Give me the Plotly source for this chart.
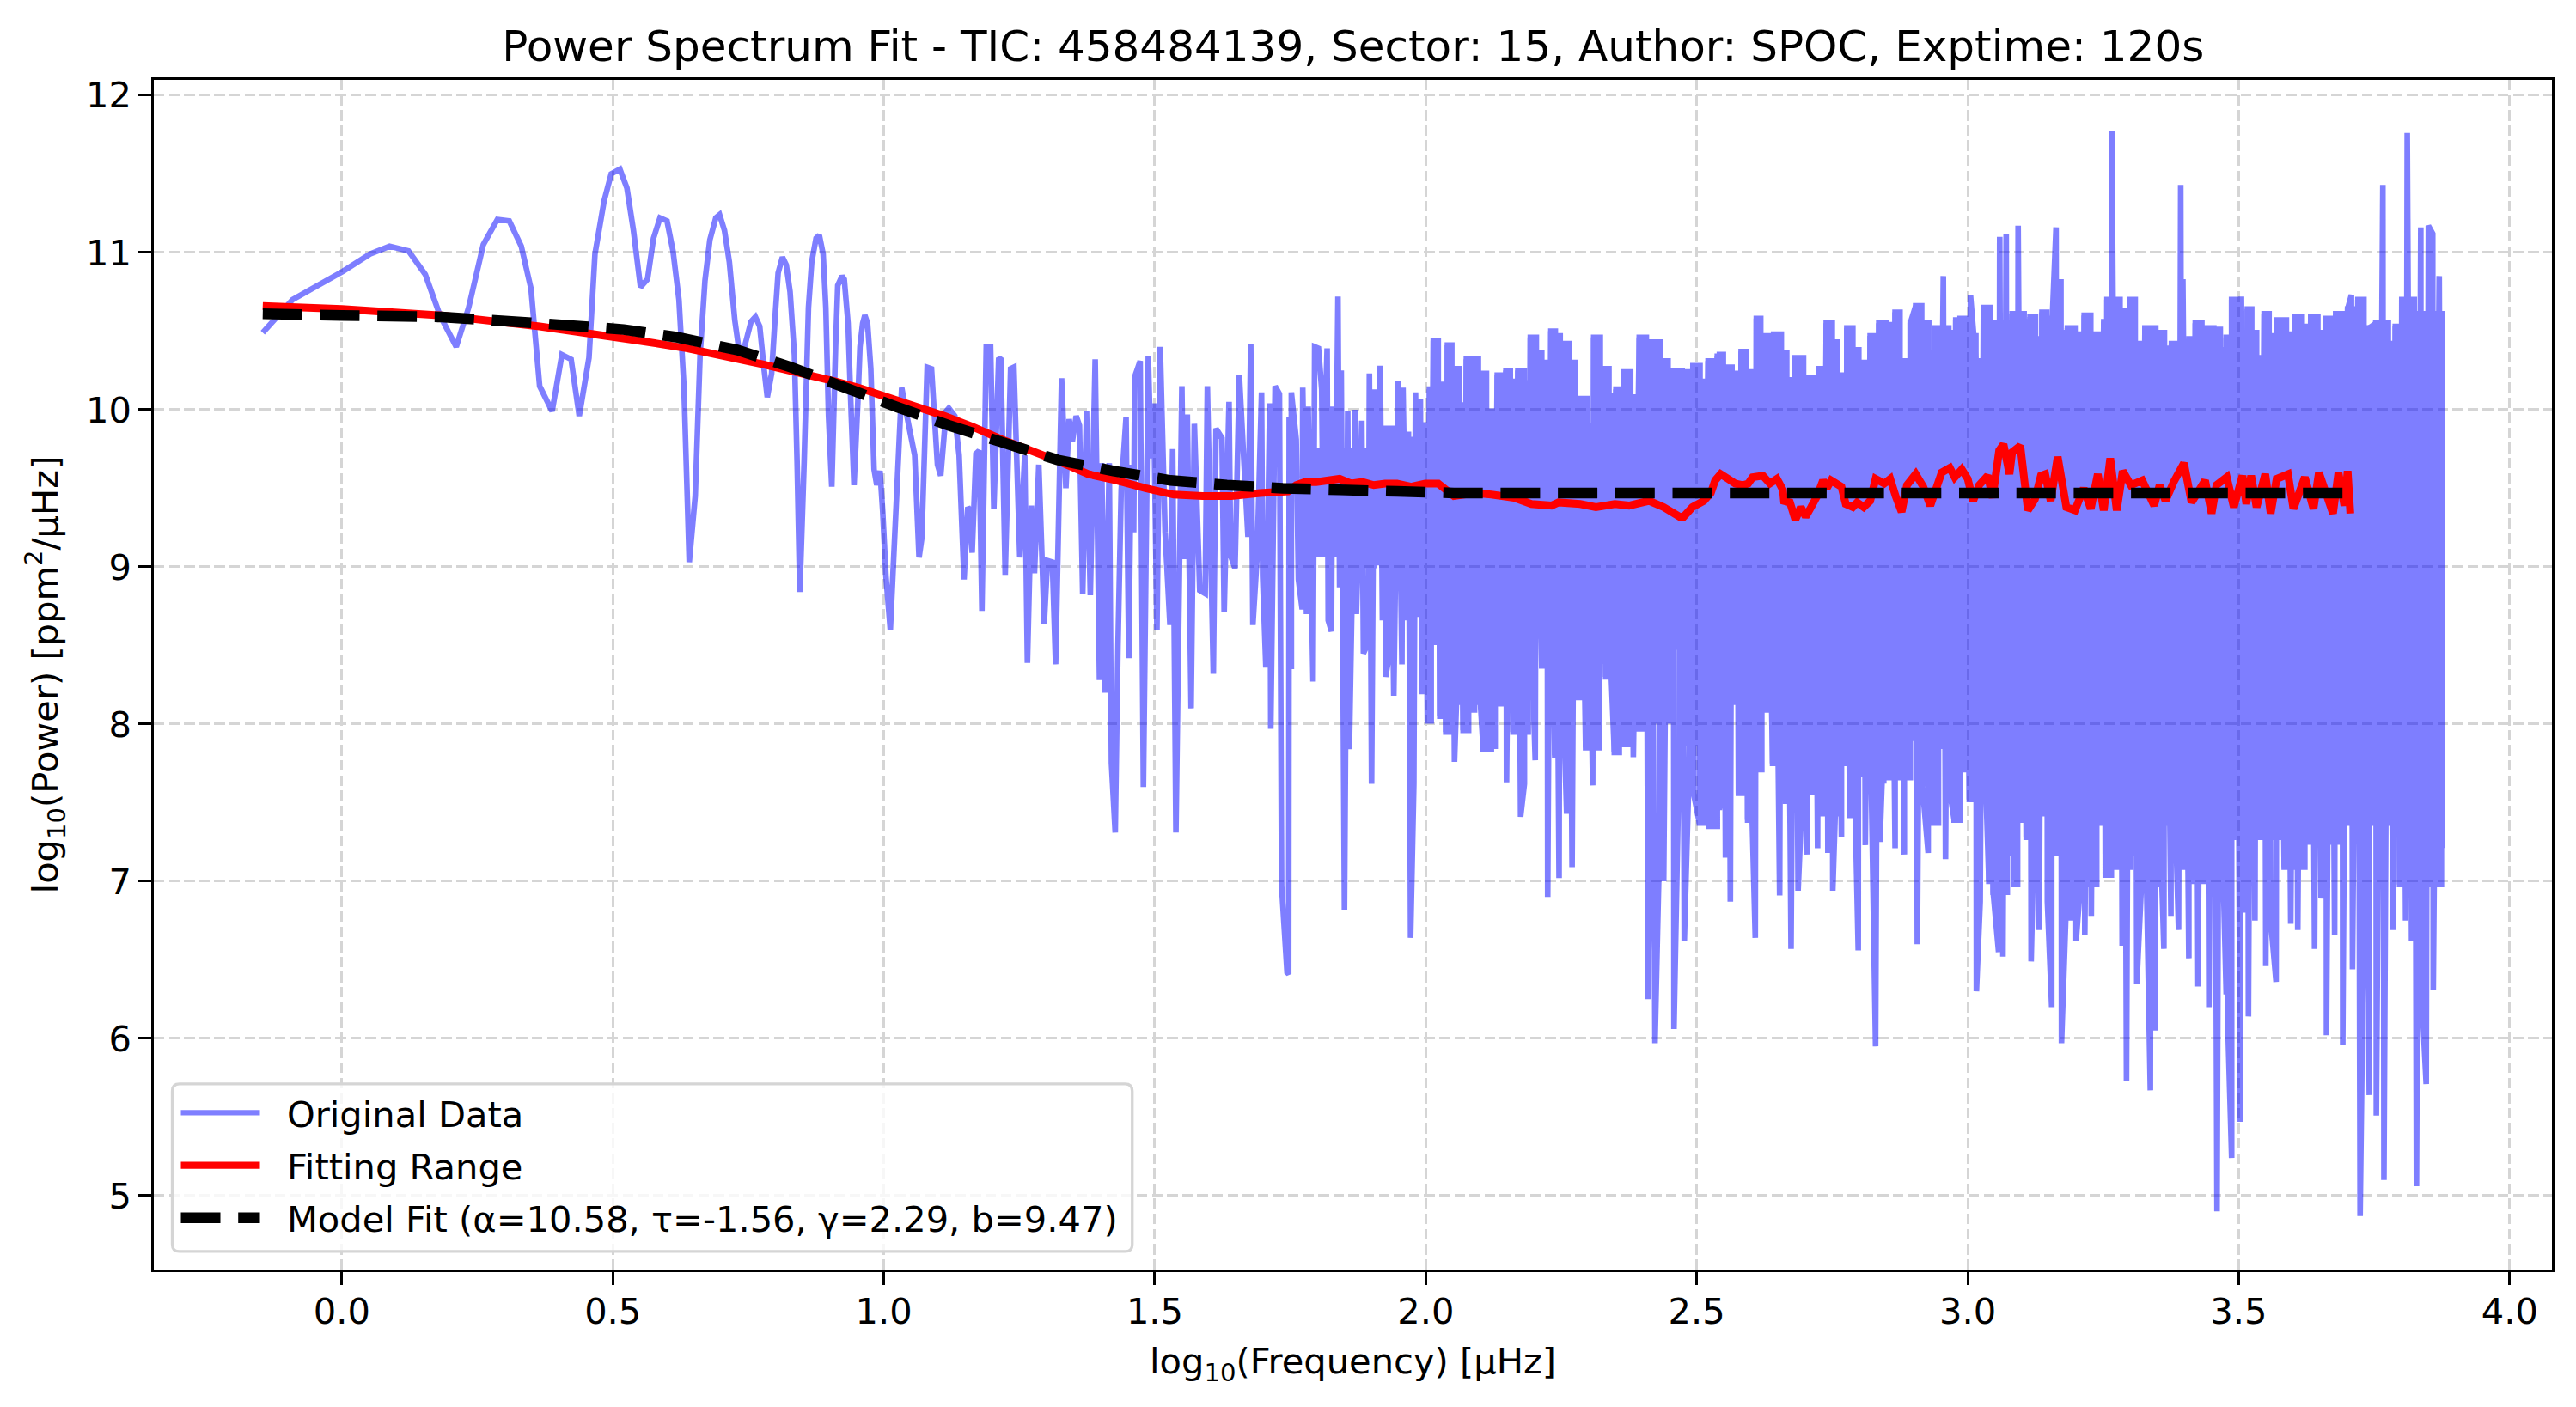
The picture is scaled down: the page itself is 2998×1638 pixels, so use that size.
import plotly.graph_objects as go

TITLE = "Power Spectrum Fit - TIC: 458484139, Sector: 15, Author: SPOC, Exptime: 120s"
XTICKS = [0.0, 0.5, 1.0, 1.5, 2.0, 2.5, 3.0, 3.5, 4.0]
YTICKS = [5, 6, 7, 8, 9, 10, 11, 12]
NAME_DATA = "Original Data"
NAME_RANGE = "Fitting Range"
NAME_MODEL = "Model Fit (α=10.58, τ=-1.56, γ=2.29, b=9.47)"

# Low-frequency part of the spectrum, resolved point by point
low_freq = [-0.146,-0.091,0.002,0.052,0.088,0.123,0.154,0.181,0.211,0.234,0.261,0.287,0.309,0.331,0.349,0.365,0.388,0.406,0.423,0.438,0.456,0.467,0.484,0.497,0.513,0.526,0.538,0.551,0.564,0.575,0.587,0.600,0.611,0.622,0.631,0.641,0.652,0.661,0.670,0.679,0.690,0.697,0.706,0.715,0.725,0.734,0.743,0.755,0.763,0.771,0.779,0.785,0.793,0.800,0.805,0.813,0.820,0.827,0.835,0.840,0.845,0.853,0.861,0.867,0.875,0.881,0.888,0.893,0.898,0.904,0.911,0.915,0.923,0.927,0.934,0.940,0.945,0.952,0.956,0.961,0.965,0.970,0.976,0.982,0.987,0.993,0.998,1.004,1.012,
 1.033,1.046,1.057,1.065,1.070,1.080,1.088,1.099,1.105,1.115,1.120,1.131,1.139,1.148,1.155,1.159,1.163,1.170,1.176,1.181,1.189,1.197,1.203,1.212,1.216,1.224,1.234,1.240,1.251,1.260,1.265,1.272,1.278,1.286,1.296,1.302,1.311,1.317,1.328,1.336,1.342,1.348,1.355,1.361,1.367,1.374,1.381,1.390,1.398,1.402,1.408,1.416,1.420,1.427,1.432,1.438,1.447,1.452,1.456,1.461,1.463,1.473,1.479,1.488,1.493,1.498,1.504,1.510,1.519,1.528,1.533,1.539,1.550,1.554,1.560,1.567,1.573,1.583,1.593,1.597,1.608,1.613,1.624,1.628,1.637,1.640,1.648,1.656,1.663,1.672,1.677,1.681,1.689,1.697,1.699,1.705,1.712,1.714,1.722,1.730,1.734,1.744]
low_power = [10.49,10.70,10.88,10.99,11.04,11.01,10.86,10.60,10.40,10.65,11.05,11.21,11.20,11.04,10.77,10.15,9.99,10.35,10.32,9.96,10.33,10.99,11.33,11.50,11.53,11.41,11.14,10.78,10.83,11.09,11.22,11.20,11.01,10.70,10.16,9.03,9.45,10.35,10.82,11.08,11.22,11.24,11.14,10.94,10.57,10.35,10.40,10.56,10.59,10.53,10.26,10.08,10.23,10.62,10.87,10.97,10.92,10.75,10.35,9.67,8.84,9.67,10.65,10.94,11.09,11.11,10.99,10.65,9.96,9.51,10.40,10.79,10.85,10.83,10.55,9.96,9.52,10.04,10.40,10.55,10.60,10.55,10.26,9.62,9.52,9.61,9.35,8.94,8.60,
 10.14,9.90,9.71,9.06,9.18,10.27,10.26,9.65,9.58,9.99,10.01,9.96,9.71,8.92,9.38,9.36,9.09,9.72,9.74,8.72,10.40,10.40,9.37,10.33,10.32,8.95,10.26,10.27,9.06,9.71,8.39,9.39,8.96,9.65,8.64,9.04,9.03,8.38,10.20,9.50,9.94,9.80,9.96,9.90,8.83,9.99,8.82,10.32,8.28,9.66,8.20,9.66,7.75,7.31,8.49,9.49,9.95,8.42,9.65,9.22,10.21,10.31,7.60,10.34,9.69,10.04,8.60,10.40,9.22,8.63,9.75,7.31,10.15,9.05,9.97,8.10,9.91,8.85,8.83,10.15,8.32,9.88,9.82,8.71,10.05,9.07,8.99,10.22,9.76,9.19,10.42,8.63,9.08,10.11,8.94,8.36,10.04,7.97,10.15,10.10,6.97,6.42]

# Upper envelope of the dense part
peak_freq = [1.748,1.752,1.761,1.773,1.783,1.795,1.802,1.808,1.818,1.828,1.838,1.844,1.856,1.870,1.882,1.896,1.905,1.916,1.925,1.935,1.949,1.958,1.968,1.981,1.990,1.999,2.007,2.014,2.023,2.031,2.040,2.048,2.061,2.075,2.084,2.090,2.097,2.112,2.122,2.132,2.148,2.156,2.170,2.182,2.193,2.204,2.214,2.224,2.231,2.239,2.248,2.264,2.275,2.285,2.298,2.310,2.322,2.338,2.351,2.366,2.378,2.394,2.407,2.416,2.433,2.447,2.457,2.473,2.493,2.506,2.521,2.538,
 2.542,2.549,2.558,2.565,2.574,2.582,2.591,2.599,2.610,2.618,2.627,2.642,2.656,2.666,2.681,2.697,2.707,2.717,2.725,2.739,2.750,2.759,2.767,2.777,2.788,2.799,2.808,2.820,2.836,2.849,2.857,2.866,2.875,2.883,2.894,2.904,2.915,2.928,2.940,2.955,2.965,2.978,2.986,2.995,3.005,3.015,3.029,3.042,3.059,3.071,3.082,3.093,3.104,3.115,3.125,3.137,3.146,3.155,3.163,3.172,3.184,3.198,3.215,3.227,3.235,3.251,3.257,3.266,3.281,3.288,3.299,3.309,3.327,
 3.339,3.347,3.363,3.376,3.393,3.397,3.408,3.420,3.432,3.441,3.454,3.466,3.477,3.487,3.496,3.505,3.516,3.524,3.533,3.547,3.556,3.571,3.588,3.604,3.617,3.633,3.646,3.661,3.670,3.679,3.691,3.701,3.708,3.720,3.731,3.741,3.753,3.766,3.776,3.789,3.801,3.811,3.824,3.836,3.850,3.858,3.870,3.876]
peak_power = [9.95,10.11,9.81,10.14,10.02,10.40,10.39,10.13,10.39,10.02,10.72,10.25,9.99,10.00,9.93,10.23,10.13,10.28,9.81,9.79,10.18,10.14,9.86,10.11,10.07,9.92,10.13,10.44,10.04,10.16,10.41,10.26,10.03,10.32,10.13,10.32,10.23,9.99,9.95,10.22,10.25,10.18,10.25,10.17,10.46,10.36,10.26,10.30,10.50,10.47,10.42,10.30,10.06,10.07,9.90,10.46,10.26,10.09,10.13,10.24,10.08,10.46,10.14,10.43,10.31,10.18,10.25,10.24,10.28,10.18,10.31,10.34,
 10.35,10.13,10.27,10.23,10.15,10.37,10.24,10.24,10.58,10.38,10.47,10.48,10.36,10.19,10.33,9.99,10.20,10.15,10.26,10.55,10.43,10.18,10.22,10.52,10.38,10.21,10.30,10.47,10.55,10.54,10.33,10.62,10.21,10.31,10.55,10.66,10.55,10.36,10.52,10.85,10.49,10.57,10.58,10.47,10.73,10.31,10.65,10.55,11.10,11.12,10.61,11.17,10.56,10.59,10.45,10.62,10.58,10.49,11.16,10.83,10.52,10.48,10.60,10.31,10.48,10.56,10.70,11.77,10.63,10.48,10.70,10.42,10.52,
 10.52,10.49,10.39,10.42,11.43,10.83,10.45,10.55,10.52,10.52,10.51,10.38,10.46,10.70,10.49,10.72,10.64,10.49,10.33,10.61,10.47,10.57,10.48,10.59,10.53,10.59,10.49,10.58,10.47,10.61,10.45,10.64,10.73,10.70,10.47,10.52,10.55,11.43,10.42,10.53,10.70,11.76,10.61,11.16,11.17,11.12,10.85,10.49]

# Lower envelope of the dense part
trough_freq = [1.747,1.752,1.765,1.772,1.780,1.792,1.810,1.820,1.826,1.833,1.841,1.850,1.859,1.872,1.885,1.894,1.900,1.910,1.920,1.926,1.933,1.941,1.956,1.965,1.972,1.978,1.986,1.993,2.003,2.010,2.020,2.026,2.037,2.044,2.053,2.061,2.069,2.079,2.090,2.099,2.106,2.121,2.128,2.136,2.149,2.161,2.175,2.182,2.189,2.195,2.202,2.214,2.225,2.235,2.238,2.246,2.253,2.260,2.270,2.280,2.295,2.308,2.320,2.332,2.341,2.348,2.357,2.367,2.375,2.383,2.399,2.410,2.415,2.423,2.432,2.439,2.449,2.458,2.468,2.477,2.486,2.494,2.505,2.513,2.523,2.538,
 2.542,2.546,2.553,2.562,2.569,2.577,2.586,2.594,2.600,2.608,2.620,2.627,2.640,2.653,2.663,2.674,2.687,2.696,2.704,2.713,2.723,2.732,2.742,2.751,2.759,2.767,2.775,2.782,2.791,2.798,2.811,2.822,2.830,2.838,2.845,2.855,2.866,2.883,2.894,2.907,2.916,2.927,2.936,2.946,2.959,2.967,2.975,2.986,3.003,3.016,3.023,3.030,3.039,3.047,3.057,3.065,3.073,3.085,3.092,3.100,3.108,3.117,3.124,3.132,3.140,3.147,3.155,3.165,3.173,3.182,3.191,3.200,3.208,3.216,3.228,3.238,3.254,3.265,3.275,3.285,3.293,3.301,3.312,3.320,3.330,
 3.337,3.346,3.355,3.362,3.375,3.381,3.389,3.396,3.408,3.416,3.425,3.434,3.445,3.460,3.469,3.477,3.480,3.487,3.495,3.503,3.511,3.518,3.530,3.540,3.550,3.559,3.569,3.584,3.596,3.609,3.622,3.640,3.652,3.662,3.677,3.685,3.692,3.710,3.724,3.731,3.741,3.754,3.768,3.785,3.797,3.808,3.819,3.828,3.837,3.846,3.859,3.874]
trough_power = [6.41,8.35,8.92,8.73,8.70,8.27,9.43,8.66,8.59,9.08,8.87,6.82,7.84,8.70,8.45,8.52,7.62,9.01,8.66,8.30,8.45,8.18,8.38,8.66,6.64,7.62,8.98,8.19,8.02,8.87,8.52,8.05,7.95,8.14,7.76,8.59,7.96,8.09,8.14,8.24,7.84,7.86,9.01,8.13,7.63,7.95,7.41,7.62,8.17,8.56,7.77,8.37,6.90,8.59,7.80,7.02,8.24,7.43,7.09,8.17,7.85,7.61,8.40,8.30,8.42,7.82,8.31,7.87,7.97,7.79,8.02,6.25,7.48,5.97,7.34,7.00,8.49,6.06,7.88,6.62,7.72,7.56,7.37,8.31,7.35,7.47,
 7.48,8.59,7.15,6.87,8.14,7.56,7.62,7.39,7.71,6.64,8.37,8.09,7.75,6.91,7.51,6.57,6.94,7.66,7.17,7.57,7.21,7.43,7.18,6.94,7.80,7.28,7.75,7.42,7.68,6.56,7.23,7.64,5.95,7.25,7.93,7.66,7.21,7.17,7.91,6.60,7.62,7.18,7.37,7.86,7.14,7.57,7.39,7.71,7.52,6.30,6.87,7.98,7.00,6.93,6.55,6.52,7.18,6.98,7.91,7.39,7.28,6.49,7.55,6.69,7.43,6.87,6.20,7.18,5.97,6.87,6.75,6.62,6.98,6.66,6.78,7.37,7.04,7.16,7.09,6.59,5.73,7.18,6.35,6.94,6.98,
 5.67,6.05,7.37,6.57,6.78,7.68,6.69,7.09,6.51,7.00,6.33,7.03,6.20,4.90,7.37,6.28,6.08,5.24,7.28,5.47,6.80,6.14,6.75,7.28,6.46,6.75,6.36,7.09,6.73,6.69,7.25,6.57,6.89,6.02,6.66,7.37,5.96,6.44,4.87,6.87,5.64,5.51,5.10,6.69,6.98,6.75,6.62,5.06,6.32,5.71,6.31,7.23]

# Edges of the unbroken body of the spectrum below 2.0, where the points are too many to separate
body_freq = [1.798,1.851,1.904,1.957]
body_upper = [9.74,9.74,9.88,9.81]
body_lower = [9.08,9.01,9.11,8.70]

# Smoothed spectrum over the fitting range
fit_freq = [-0.146,0.0,0.184,0.365,0.547,0.638,0.775,0.911,0.953,1.006,1.059,1.112,1.165,1.218,1.271,1.324,1.377,1.430,1.483,1.535,1.588,1.641,1.694,1.746,1.761,1.777,1.798,1.841,1.862,1.883,1.904,1.925,1.947,1.973,1.999,2.023,2.052,2.089,2.121,2.163,2.195,2.232,2.245,2.285,2.314,2.349,2.375,2.412,2.439,2.468,
 2.476,2.492,2.513,2.526,2.534,2.544,2.558,2.571,2.585,2.595,2.603,2.622,2.635,2.648,2.659,2.661,2.672,2.682,2.692,2.701,2.711,2.722,2.733,2.740,2.748,2.767,2.775,2.788,2.796,2.808,2.820,2.830,2.846,2.857,2.867,2.878,2.888,2.904,2.918,2.931,2.941,2.952,2.967,2.976,2.989,
 3.000,3.010,3.021,3.037,3.046,3.058,3.066,3.077,3.082,3.097,3.111,3.124,3.135,3.143,3.153,3.166,3.182,3.198,3.214,3.227,3.240,3.251,3.263,3.275,3.286,3.301,3.322,3.344,3.354,3.365,3.380,3.399,3.413,3.438,3.450,3.459,3.478,3.491,3.507,3.514,
 3.523,3.533,3.549,3.559,3.570,3.591,3.601,3.622,3.638,3.648,3.674,3.684,3.695,3.701,3.706]
fit_power = [10.66,10.64,10.60,10.53,10.44,10.39,10.29,10.18,10.14,10.08,10.02,9.96,9.89,9.81,9.74,9.67,9.59,9.55,9.50,9.46,9.45,9.45,9.47,9.48,9.52,9.54,9.54,9.56,9.53,9.54,9.52,9.53,9.53,9.51,9.53,9.53,9.45,9.47,9.46,9.44,9.40,9.39,9.41,9.40,9.38,9.40,9.39,9.42,9.38,9.32,
 9.32,9.38,9.42,9.47,9.55,9.59,9.56,9.53,9.52,9.53,9.57,9.58,9.53,9.56,9.49,9.42,9.41,9.30,9.38,9.32,9.38,9.45,9.55,9.50,9.55,9.51,9.40,9.38,9.41,9.38,9.42,9.56,9.53,9.56,9.45,9.35,9.52,9.59,9.51,9.39,9.49,9.60,9.63,9.57,9.62,
 9.56,9.42,9.52,9.58,9.44,9.74,9.78,9.59,9.73,9.77,9.36,9.43,9.58,9.59,9.42,9.70,9.38,9.36,9.50,9.37,9.59,9.36,9.69,9.36,9.61,9.52,9.55,9.39,9.52,9.42,9.54,9.66,9.41,9.55,9.34,9.52,9.57,9.38,9.58,9.40,
 9.58,9.38,9.59,9.34,9.56,9.59,9.37,9.57,9.37,9.60,9.34,9.60,9.39,9.61,9.34]

# Fitted model curve
model_freq = [-0.146,0.0,0.184,0.365,0.520,0.620,0.729,0.829,0.929,1.022,1.120,1.221,1.321,1.424,1.529,1.633,1.736,1.841,1.947,2.052,2.158,2.500,3.000,3.702]
model_power = [10.61,10.60,10.59,10.55,10.51,10.46,10.38,10.27,10.14,10.02,9.90,9.79,9.68,9.61,9.55,9.52,9.50,9.49,9.48,9.47,9.47,9.47,9.47,9.47]

dense = sorted(list(zip(peak_freq, peak_power)) + list(zip(trough_freq, trough_power)))
spec_x = low_freq + [p[0] for p in dense]
spec_y = low_power + [p[1] for p in dense]


def shallow(f, v):
    """A trough that belongs to the solid outline, not one of the narrow deep spikes."""
    if f < 2.5:
        return v >= 7.8
    if f < 3.0:
        return v >= 7.3
    return v >= 6.9


def stairs(points):
    """Hold each reading flat up to the next one: the outline of many neighbouring vertical spikes."""
    out = []
    for (f0, v0), (f1, _) in zip(points, points[1:]):
        out += [(f0, v0), (f1, v0)]
    out.append(points[-1])
    return out


# Outline of the solid body: the readings above, leaving out the narrow spikes drawn by the line.
top_edge = list(zip(body_freq, body_upper)) + [(f, v) for f, v in zip(peak_freq, peak_power) if f >= 2.0 and v <= 10.7]
bot_edge = list(zip(body_freq, body_lower)) + [(f, v) for f, v in zip(trough_freq, trough_power) if f >= 2.0 and shallow(f, v)]
if bot_edge[-1][0] < top_edge[-1][0]:
    bot_edge.append((top_edge[-1][0], trough_power[-1]))
top_edge = stairs(top_edge)
bot_edge = stairs(bot_edge)

# One trace holds the spectrum and its body, so the half-transparent blue stays one flat colour.
# The spectrum runs out and back, which gives it no fill area of its own.
all_x = spec_x + spec_x[::-1] + [None] + [p[0] for p in top_edge] + [p[0] for p in bot_edge[::-1]]
all_y = spec_y + spec_y[::-1] + [None] + [p[1] for p in top_edge] + [p[1] for p in bot_edge[::-1]]

FONT = "DejaVu Sans"
PAD = "\u00a0\u00a0"
fig = go.Figure()
fig.add_trace(go.Scatter(x=all_x, y=all_y, mode="lines", showlegend=False, fill="toself", fillcolor="#0000ff",
                         opacity=0.5, connectgaps=False, hoverinfo="skip",
                         line=dict(color="#0000ff", width=6.6, simplify=False)))
fig.add_trace(go.Scatter(x=[None], y=[None], mode="lines", name=PAD + NAME_DATA, legendgroup="a",
                         line=dict(color="rgba(0,0,255,0.5)", width=6.25)))
fig.add_trace(go.Scatter(x=fit_freq, y=fit_power, mode="lines", name=PAD + NAME_RANGE, legendgroup="b",
                         line=dict(color="#ff0000", width=9, simplify=False)))
fig.add_trace(go.Scatter(x=model_freq, y=model_power, mode="lines", name=PAD + NAME_MODEL, legendgroup="c",
                         line=dict(color="#000000", width=12.5, dash="46px,20.7px", simplify=False)))

axis = dict(showline=True, mirror=True, linecolor="black", linewidth=3.3, ticks="outside", ticklen=14.6,
            tickwidth=3.3, tickcolor="black", showgrid=True, gridcolor="#d5d5d5", gridwidth=3.3,
            griddash="12.3px,5.3px", zeroline=False, tickfont=dict(family=FONT, size=41.6, color="black"))
fig.update_layout(
    width=2990, height=1630, autosize=False,
    margin=dict(l=171, r=28, t=85, b=160, pad=0),
    paper_bgcolor="white", plot_bgcolor="white",
    font=dict(family=FONT, size=41.6, color="black"),
    title=dict(text=TITLE, font=dict(family=FONT, size=50, color="black"), x=0.524, xanchor="center",
               y=0.972, yanchor="middle"),
    xaxis=dict(axis, range=[-0.347, 4.078], tickmode="array", tickvals=XTICKS, ticklabelstandoff=-5,
               ticktext=[f"{v:.1f}" for v in XTICKS],
               title=dict(text="log<sub>10</sub>(Frequency) [μHz]", font=dict(family=FONT, size=41.6), standoff=21)),
    yaxis=dict(axis, range=[4.53, 12.098], tickmode="array", tickvals=YTICKS,
               ticktext=[str(v) for v in YTICKS],
               title=dict(text="log<sub>10</sub>(Power) [ppm<sup>2</sup>/μHz]", font=dict(family=FONT, size=41.6), standoff=20)),
    legend=dict(x=0.0095, y=0.156, xanchor="left", yanchor="top", bgcolor="rgba(0,0,0,0)", borderwidth=0,
                itemwidth=92, tracegroupgap=4, font=dict(family=FONT, size=41.6, color="black"),
                traceorder="grouped"),
    shapes=[dict(type="path", xref="paper", yref="paper", layer="above",
                 path="M 0.0107,0.0152 L 0.405,0.0152 Q 0.408,0.0152 0.408,0.0212 L 0.408,0.150 "
                      "Q 0.408,0.156 0.405,0.156 L 0.0107,0.156 Q 0.0077,0.156 0.0077,0.150 "
                      "L 0.0077,0.0212 Q 0.0077,0.0152 0.0107,0.0152 Z",
                 fillcolor="rgba(255,255,255,0.8)", line=dict(color="#d5d5d5", width=3.3))],
)
# Plotly caps the sample strokes in a legend; give them the widths of the drawn lines.
POST = """
var gd = document.querySelector('.plotly-graph-div');
function widen() {
  var w = [6.25, 8.3, 12.5];
  gd.querySelectorAll('.legend .traces').forEach(function (t, i) {
    t.querySelectorAll('.legendlines path').forEach(function (p) { p.style.strokeWidth = w[i] + 'px'; });
  });
}
widen();
"""
fig.write_html("out.html", post_script=POST)
